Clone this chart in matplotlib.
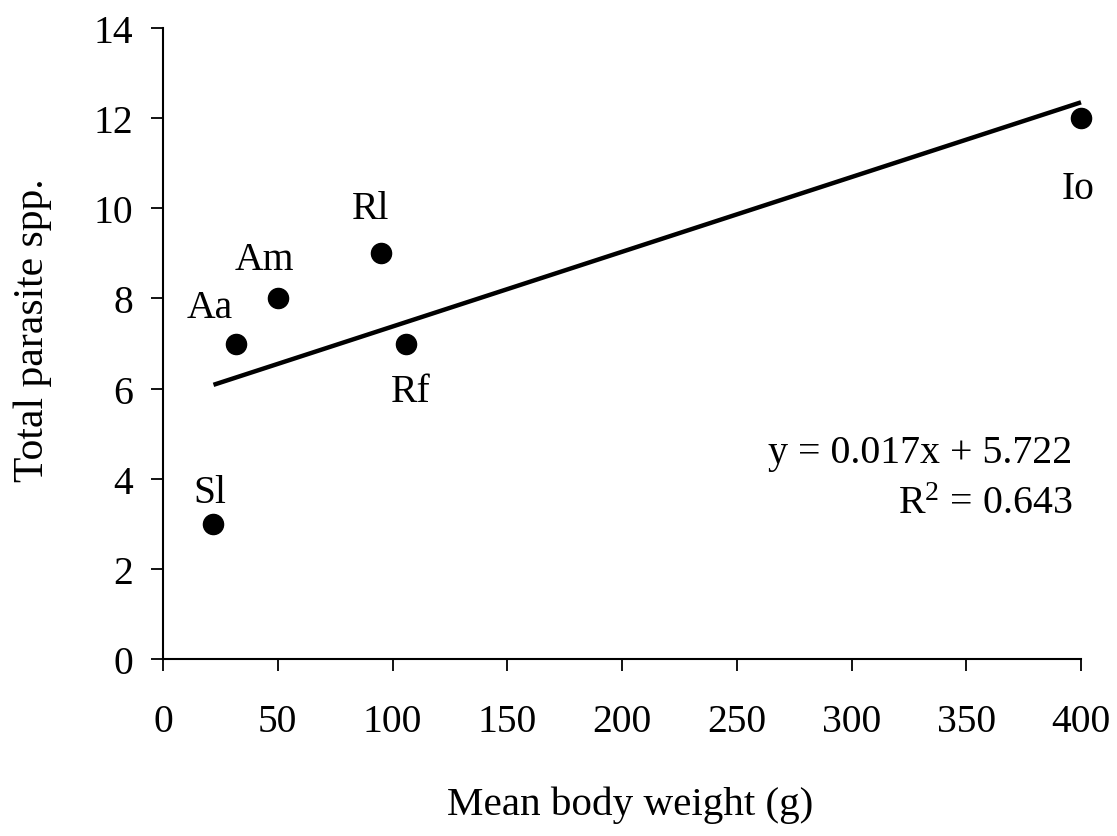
import numpy as np
import matplotlib
matplotlib.use("Agg")
import matplotlib.pyplot as plt

# ---- data ----
species = ["Sl", "Aa", "Am", "Rl", "Rf", "Io"]
body_weight = [22, 32, 50, 95, 106, 400]
parasite_spp = [3, 7, 8, 9, 7, 12]
x_ticks = [0, 50, 100, 150, 200, 250, 300, 350, 400]
y_ticks = [0, 2, 4, 6, 8, 10, 12, 14]
equation_text = "y = 0.017x + 5.722"
r2_text = r"R$^{2}$ = 0.643"
x_label = "Mean body weight (g)"
y_label = "Total parasite spp."

# label offsets (pixels) relative to each point
label_offsets = {"Sl": (-4, 22), "Aa": (-27, 26), "Am": (-13, 29),
                 "Rl": (-10, 35), "Rf": (4, -57), "Io": (-3, -80)}

plt.rcParams["font.family"] = ["Liberation Serif", "DejaVu Serif"]
plt.rcParams["mathtext.fontset"] = "custom"
plt.rcParams["mathtext.rm"] = "Liberation Serif"
plt.rcParams["mathtext.it"] = "Liberation Serif:italic"

fig = plt.figure(figsize=(11.17, 8.37), dpi=100)
ax = fig.add_axes([163/1117, 1-660/837, (1081-163)/1117, (660-29)/837])

ax.set_xlim(0, 400)
ax.set_ylim(0, 14)

# regression line
coef = np.polyfit(body_weight, parasite_spp, 1)
xl = np.array([min(body_weight), max(body_weight)])
ax.plot(xl, np.polyval(coef, xl), color="black", lw=3.2, solid_capstyle="butt", clip_on=False)

ax.plot(body_weight, parasite_spp, "o", color="black", markersize=14.5, clip_on=False, zorder=3)

for name, xv, yv in zip(species, body_weight, parasite_spp):
    dx, dy = label_offsets[name]
    ax.annotate(name, (xv, yv), xytext=(dx, dy), textcoords="offset pixels",
                ha="center", va="baseline", fontsize=28.5)

for s in ["top", "right"]:
    ax.spines[s].set_visible(False)
for s in ["left", "bottom"]:
    ax.spines[s].set_linewidth(1.5)

ax.set_xticks(x_ticks)
ax.set_yticks(y_ticks)
ax.tick_params(axis="both", direction="out", length=8.6, width=1.3, labelsize=28.5)
ax.tick_params(axis="x", pad=23)
ax.tick_params(axis="y", pad=13)

fig.text(1072/1117, 1-463/837, equation_text, ha="right", va="baseline", fontsize=28.7)
fig.text(1072/1117, 1-514/837, r2_text, ha="right", va="baseline", fontsize=28.7)

fig.text(630/1117, 1-815/837, x_label, ha="center", va="baseline", fontsize=29.6)
fig.text(33/1117, 1-330/837, y_label, ha="center", va="center", rotation=90, fontsize=30)

fig.savefig("out.png", dpi=100)
